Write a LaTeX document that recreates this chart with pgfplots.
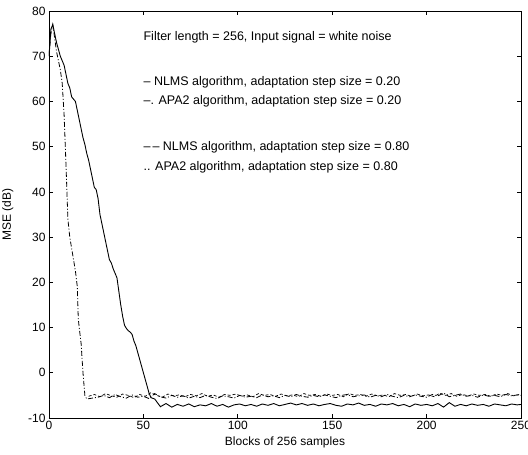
\documentclass[border=0pt]{standalone}
\usepackage{fontspec}
\setmainfont{Liberation Sans}
\usepackage{pgfplots}
\pgfplotsset{compat=1.18}

\begin{document}
\begin{tikzpicture}
\begin{axis}[
    scale only axis,
    width=472pt, height=407pt,
    xmin=0, xmax=250, ymin=-10, ymax=80,
    xtick={0,50,100,150,200,250},
    ytick={-10,0,10,20,30,40,50,60,70,80},
    tick align=inside,
    tick pos=both,
    major tick length=4pt,
    axis line style={line width=0.9pt},
    tick style={line width=0.7pt, black},
    /pgf/number format/assume math mode=true,
    tick label style={font=\fontsize{12}{14}\selectfont},
    xlabel={Blocks of 256 samples},
    ylabel={MSE (dB)},
    label style={font=\fontsize{12}{14}\selectfont},
    xlabel style={at={(axis description cs:0.5,0)}, yshift=-15pt, anchor=north},
    ylabel style={at={(axis description cs:-0.068,0.5)}, anchor=south},
    clip=true,
]
% NLMS, step 0.20 (solid)
\addplot[black, line width=0.9pt] coordinates {
(0,70) (1,76) (2,77) (3,75) (4,73) (5,71.5) (6,70) (7,69) (8,68) (9,66)
(10,64) (11,63) (12,61) (13,60.5) (14,60) (15,58) (16,56) (17,54) (18,52) (19,50.5)
(20,48.5) (21,47) (22,45) (23,43) (24,41) (25,40.5) (26,38.5) (27,35) (28,33) (29,31)
(30,29) (31,27) (32,25) (33,24.3) (34,23) (35,22) (36,21) (37,18) (38,15) (39,12.5)
(40,10.5) (41,9.8) (42,9.3) (43,9) (44,8.5) (45,7) (46,6) (47,4.5) (48,3) (49,1.5)
(50,0) (51,-1.5) (52,-3) (53,-4.5) (54,-5.5) (56,-5.8) (59,-7.5) (62,-6.8) (65,-7.6) (68,-7.0)
(71,-7.4) (74,-6.9) (77,-7.5) (80,-7.1) (83,-7.3) (86,-6.8) (89,-7.4) (92,-7.0) (95,-7.6) (98,-7.1)
(101,-6.9) (104,-7.3) (107,-7.0) (110,-7.4) (113,-6.9) (116,-7.2) (119,-6.8) (122,-7.3) (125,-7.0) (128,-6.7)
(131,-7.1) (134,-6.8) (137,-7.2) (140,-6.9) (143,-7.3) (146,-7.0) (149,-6.8) (152,-7.2) (155,-7.4) (158,-6.9)
(161,-7.1) (164,-6.7) (167,-7.2) (170,-7.0) (173,-7.4) (176,-6.9) (179,-7.1) (182,-6.8) (185,-7.3) (188,-7.0)
(191,-7.5) (194,-6.9) (197,-7.2) (200,-7.0) (203,-7.3) (206,-6.8) (209,-7.6) (212,-6.6) (215,-7.4) (218,-7.0)
(221,-7.3) (224,-6.9) (227,-7.2) (230,-7.0) (233,-7.4) (236,-6.9) (239,-7.1) (242,-7.3) (245,-6.9) (248,-7.1) (250,-7.0)
};
% APA2, step 0.20 (dash-dot)
\addplot[black, line width=0.8pt, dash pattern=on 5pt off 2pt on 1pt off 2pt] coordinates {
(0,70) (1,75) (2,77) (3,74) (4,71) (5,69) (6,67) (7,64) (8,57) (9,46)
(10,34) (11,30) (12,27.5) (13,25) (14,22.5) (15,19) (15.5,12) (16,10) (17,6.5) (18,0)
(19,-5) (20,-5.8) (23,-5.6) (26,-5.4) (29,-5.0) (32,-5.5) (35,-4.8) (38,-5.3) (41,-5.6) (44,-4.9)
(47,-5.4) (50,-5.2) (53,-5.7) (56,-4.6) (59,-5.3) (62,-5.6) (65,-5.0) (68,-5.4) (71,-5.1) (74,-5.6)
(77,-5.2) (80,-5.5) (83,-5.0) (86,-5.4) (89,-5.7) (92,-5.1) (95,-5.3) (98,-5.6) (101,-5.0) (104,-5.4)
(107,-5.2) (110,-5.5) (113,-4.9) (116,-5.3) (119,-5.1) (122,-5.5) (125,-5.0) (128,-5.3) (131,-4.8) (134,-5.2)
(137,-5.4) (140,-5.0) (143,-5.3) (146,-4.9) (149,-5.2) (152,-5.5) (155,-5.0) (158,-4.8) (161,-5.3) (164,-5.1)
(167,-4.9) (170,-5.4) (173,-5.0) (176,-5.3) (179,-4.8) (182,-5.2) (185,-5.5) (188,-5.0) (191,-5.3) (194,-4.9)
(197,-5.2) (200,-5.4) (203,-4.8) (206,-5.1) (209,-4.5) (212,-5.3) (215,-5.0) (218,-4.7) (221,-5.2) (224,-5.0)
(227,-5.4) (230,-4.9) (233,-5.2) (236,-5.0) (239,-5.3) (242,-4.8) (245,-5.1) (248,-4.9) (250,-5.0)
};
% NLMS, step 0.80 (dashed)
\addplot[black, line width=0.7pt, dash pattern=on 3pt off 2pt] coordinates {
(21,-5.2) (24,-4.8) (27,-5.3) (30,-4.6) (33,-5.1) (36,-5.4) (39,-4.7) (42,-5.0) (45,-5.5) (48,-4.8)
(51,-5.2) (54,-4.4) (57,-5.0) (60,-5.4) (63,-4.7) (66,-5.1) (69,-4.9) (72,-5.3) (75,-4.8) (78,-5.1)
(81,-4.6) (84,-5.2) (87,-4.9) (90,-5.4) (93,-4.8) (96,-5.0) (99,-4.7) (102,-5.2) (105,-4.9) (108,-5.3)
(111,-4.6) (114,-5.0) (117,-4.8) (120,-5.2) (123,-4.7) (126,-5.1) (129,-4.9) (132,-5.3) (135,-4.6) (138,-5.0)
(141,-4.8) (144,-5.2) (147,-4.7) (150,-5.0) (153,-4.8) (156,-5.3) (159,-4.6) (162,-5.0) (165,-4.8) (168,-5.2)
(171,-4.7) (174,-5.1) (177,-4.9) (180,-5.3) (183,-4.6) (186,-5.0) (189,-4.8) (192,-5.2) (195,-4.7) (198,-5.1)
(201,-4.9) (204,-5.3) (207,-4.5) (210,-5.0) (213,-4.6) (216,-5.2) (219,-4.8) (222,-5.1) (225,-4.7) (228,-5.0)
(231,-4.8) (234,-5.2) (237,-4.7) (240,-5.0) (243,-4.6) (246,-5.1) (249,-4.8)
};
\begin{scope}[every node/.style={anchor=west, inner sep=0pt, font=\fontsize{12.5}{14}\selectfont}]
\node at (axis cs:50,74.2) {Filter length = 256, Input signal = white noise};
\node at (axis cs:50,64.2) {– NLMS algorithm, adaptation step size = 0.20};
\node at (axis cs:50,60) {–. APA2 algorithm, adaptation step size = 0.20};
\node at (axis cs:50,49.9) {–\kern2pt– NLMS algorithm, adaptation step size = 0.80};
\node at (axis cs:50,45.5) {.. APA2 algorithm, adaptation step size = 0.80};
\end{scope}
\end{axis}
\pgfresetboundingbox
\useasboundingbox (-49pt,-37pt) rectangle (479pt,418pt);
\end{tikzpicture}
\end{document}
